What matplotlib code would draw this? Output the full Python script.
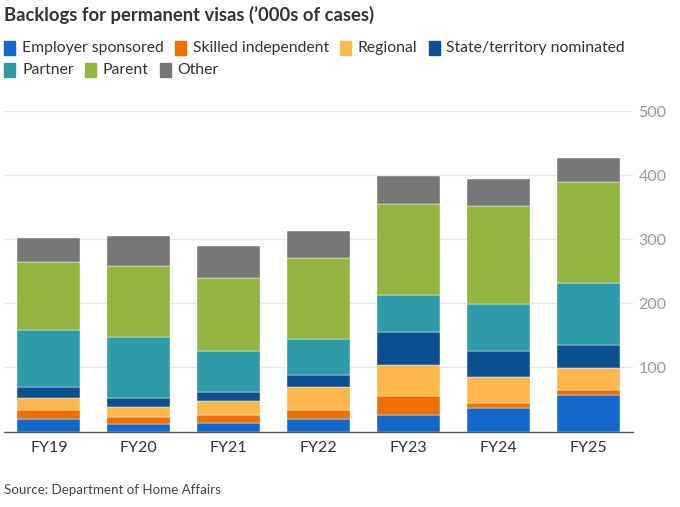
import matplotlib
matplotlib.use("Agg")
import matplotlib.pyplot as plt
from matplotlib.patches import Rectangle
import numpy as np

plt.rcParams['font.family'] = ['Lato', 'DejaVu Sans']

years = ["FY19", "FY20", "FY21", "FY22", "FY23", "FY24", "FY25"]
series_names = ["Employer sponsored", "Skilled independent", "Regional",
                "State/territory nominated", "Partner", "Parent", "Other"]
employer = [19, 12, 13.5, 20, 25.5, 36, 57]
skilled = [15, 11, 12, 13.5, 30, 8.5, 8]
regional = [19, 15, 21.5, 35.5, 49, 41, 34]
state = [16, 14, 14.5, 20, 51, 39.5, 35.5]
partner = [90, 96, 64, 56, 58, 74.5, 97]
parent = [105, 110, 114.5, 126.5, 141, 152.5, 158]
other = [38, 48, 49, 41.5, 45, 43, 37.5]
colors = ["#1368C9", "#EE7000", "#FDB74A", "#0B4F90", "#2F9AA8", "#91B53F", "#777777"]
yticks = [100, 200, 300, 400, 500]

data = [employer, skilled, regional, state, partner, parent, other]

fig = plt.figure(figsize=(6.8, 5.07), dpi=100)
ax = fig.add_axes([0.0059, 0.1489, 0.925, 0.6316])

x = np.arange(len(years))
bottom = np.zeros(len(years))
for vals, col in zip(data, colors):
    ax.bar(x, vals, 0.7, bottom=bottom, color=col, edgecolor='white', linewidth=0.3, zorder=3)
    bottom += np.array(vals)

ax.set_xlim(-0.5, 6.5)
ax.set_ylim(0, 500)
ax.set_yticks(yticks)
ax.yaxis.tick_right()
ax.tick_params(axis='y', length=0, labelsize=11.5, labelcolor='#9a9a9a', pad=4)
ax.set_xticks(x)
ax.set_xticklabels(years)
ax.tick_params(axis='x', length=0, labelsize=11.5, labelcolor='#333333', pad=7)
ax.grid(axis='y', color='#e6e6e6', linewidth=1, zorder=0)
for s in ['top', 'right', 'left']:
    ax.spines[s].set_visible(False)
ax.spines['bottom'].set_color('#555555')
ax.spines['bottom'].set_linewidth(1)
ax.spines['bottom'].set_zorder(4)

W, H = 680, 507
fig.text(4 / W, 1 - 15 / H, "Backlogs for permanent visas (\u2019000s of cases)",
         fontsize=13.2, fontweight='bold', color='#333333', va='center', ha='left')

# flowing legend
renderer = fig.canvas.get_renderer()
rows = [[0, 1, 2, 3], [4, 5, 6]]
row_y = [48, 70]
for r, idxs in enumerate(rows):
    xp = 4
    yc = row_y[r]
    for i in idxs:
        fig.patches.append(Rectangle((xp / W, 1 - (yc + 7) / H), 11 / W, 14 / H,
                                     transform=fig.transFigure, color=colors[i], figure=fig))
        t = fig.text((xp + 18) / W, 1 - yc / H, series_names[i], fontsize=11.3,
                     color='#333333', va='center', ha='left')
        bb = t.get_window_extent(renderer=renderer)
        xp = xp + 18 + bb.width + 11

fig.text(4 / W, 1 - 490 / H, "Source: Department of Home Affairs", fontsize=9.6,
         color='#444444', va='center', ha='left')

fig.savefig("out.png", dpi=100)
